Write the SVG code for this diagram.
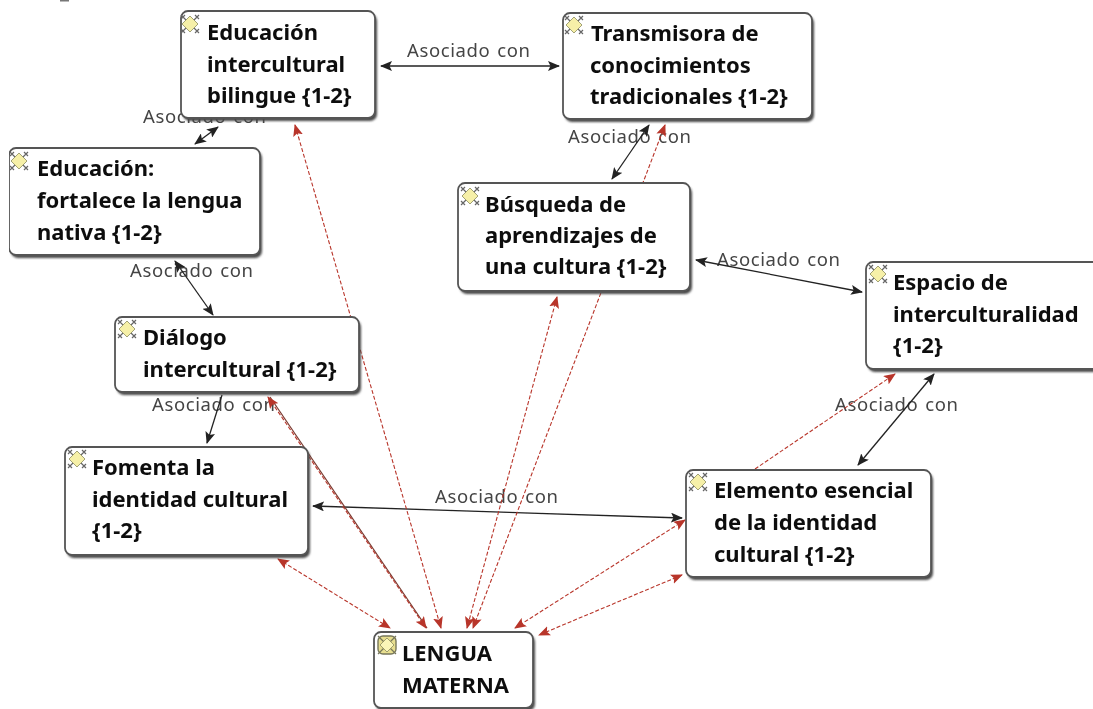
<svg xmlns="http://www.w3.org/2000/svg" width="1093" height="709" viewBox="0 0 1093 709">
<style>
.box{fill:#fff;stroke:#555;stroke-width:1.8}
.shadow{fill:#4a4a4a;filter:url(#sh)}
.t{font-family:"Noto Sans","Open Sans","DejaVu Sans",sans-serif;font-weight:700;font-size:22px;fill:#111}
.l{font-family:"Noto Sans","Open Sans","DejaVu Sans",sans-serif;font-size:18.5px;fill:#444;letter-spacing:.6px;word-spacing:1.5px}
.k{fill:none;stroke:#222;stroke-width:1.3;marker-start:url(#hk);marker-end:url(#hk)}
.ke{fill:none;stroke:#222;stroke-width:1.3;marker-end:url(#hk)}
.r{fill:none;stroke:#b8352a;stroke-width:1.1;stroke-dasharray:4 2;marker-start:url(#hr);marker-end:url(#hr)}
.re{fill:none;stroke:#b8352a;stroke-width:1.1;stroke-dasharray:4 2;marker-end:url(#hr)}
</style>
<defs>
<filter id="sh" x="-5%" y="-5%" width="110%" height="110%"><feGaussianBlur stdDeviation="0.8"/></filter>
<filter id="soft" x="0" y="0" width="100%" height="100%"><feGaussianBlur stdDeviation="0.35"/></filter>
<marker id="hk" viewBox="0 0 12 10" refX="11" refY="5" markerWidth="12" markerHeight="10" markerUnits="userSpaceOnUse" orient="auto-start-reverse"><path d="M0 0L12 5L0 10L2.5 5Z" fill="#222"/></marker>
<marker id="hr" viewBox="0 0 12 10" refX="11" refY="5" markerWidth="12" markerHeight="10" markerUnits="userSpaceOnUse" orient="auto-start-reverse"><path d="M0 0L12 5L0 10L2.5 5Z" fill="#b8352a"/></marker>
<g id="ico">
<path d="M-9-9L-3-3M9-9L3-3M-9 9L-3 3M9 9L3 3M-9-5L-5-9M9-5L5-9M-9 5L-5 9M9 5L5 9" stroke="#666" stroke-width="1.2" fill="none"/>
<path d="M0-8L8 0L0 8L-8 0Z" fill="#f6f0a8" stroke="#8a8a60" stroke-width=".8"/>
</g>
<g id="ico2">
<rect x="-9" y="-9" width="18" height="18" rx="5" fill="#e8df90" stroke="#77775a" stroke-width="1.4"/>
<path d="M-9-9L9 9M9-9L-9 9" stroke="#77775a" stroke-width="1.2"/>
<path d="M0-7L7 0L0 7L-7 0Z" fill="#fbf6b8" stroke="#8a8a60" stroke-width=".8"/>
</g>
</defs>
<rect width="1093" height="709" fill="#fff"/>
<g filter="url(#soft)">
<rect x="60" y="0" width="9" height="1.5" fill="#777"/>
<g id="connectors">
<text class="l" x="143" y="123">Asociado con</text>
<text class="l" x="130" y="277">Asociado con</text>
<text class="l" x="568" y="143">Asociado con</text>
<text class="l" x="407" y="57">Asociado con</text>
<text class="l" x="717" y="266">Asociado con</text>
<text class="l" x="152" y="411">Asociado con</text>
<text class="l" x="435" y="503">Asociado con</text>
<text class="l" x="835" y="411">Asociado con</text>
<line class="k" x1="381" y1="66" x2="559" y2="66"/>
<line class="k" x1="195" y1="144" x2="218" y2="127"/>
<line class="k" x1="612" y1="179" x2="649" y2="125"/>
<line class="k" x1="696" y1="260" x2="862" y2="292"/>
<line class="k" x1="858" y1="465" x2="934" y2="374"/>
<line class="k" x1="313" y1="506" x2="682" y2="518"/>
<line class="k" x1="213" y1="315" x2="175" y2="261"/>
<line class="ke" x1="222" y1="395" x2="207" y2="443"/>
<line class="re" x1="755" y1="469" x2="895" y2="374"/>
<line class="r" x1="685" y1="520" x2="515" y2="628"/>
<line class="r" x1="682" y1="575" x2="539" y2="635"/>
<line class="r" x1="278" y1="559" x2="390" y2="628"/>
<line x1="270" y1="397" x2="427" y2="628" stroke="#7a3a30" stroke-width="1.2" fill="none"/>
<line class="r" x1="268" y1="397" x2="426" y2="628"/>
<line class="r" x1="295" y1="125" x2="441" y2="628"/>
<line class="r" x1="557" y1="297" x2="467" y2="628"/>
<line class="r" x1="665" y1="125" x2="473" y2="628"/>
</g>
<g id="n-eib">
<rect class="shadow" x="183" y="14" width="194" height="107" rx="7"/>
<rect class="box" x="181" y="11" width="194" height="107" rx="7"/>
<use href="#ico" x="190" y="24"/>
<text class="t"><tspan x="207" y="40">Educación</tspan><tspan x="207" y="72">intercultural</tspan><tspan x="207" y="103">bilingue {1-2}</tspan></text>
</g>
<g id="n-fortalece">
<rect class="shadow" x="11" y="151" width="251" height="107" rx="7"/>
<rect class="box" x="9" y="148" width="251" height="107" rx="7"/>
<use href="#ico" x="19" y="161"/>
<text class="t"><tspan x="37" y="176">Educación:</tspan><tspan x="37" y="208">fortalece la lengua</tspan><tspan x="37" y="240">nativa {1-2}</tspan></text>
</g>
<g id="n-transmisora">
<rect class="shadow" x="565" y="16" width="249" height="106" rx="7"/>
<rect class="box" x="563" y="13" width="249" height="106" rx="7"/>
<use href="#ico" x="574" y="25"/>
<text class="t"><tspan x="591" y="41">Transmisora de</tspan><tspan x="590" y="73">conocimientos</tspan><tspan x="590" y="104">tradicionales {1-2}</tspan></text>
</g>
<g id="n-busqueda">
<rect class="shadow" x="460" y="186" width="232" height="108" rx="7"/>
<rect class="box" x="458" y="183" width="232" height="108" rx="7"/>
<use href="#ico" x="470" y="196"/>
<text class="t"><tspan x="485" y="212">Búsqueda de</tspan><tspan x="485" y="243">aprendizajes de</tspan><tspan x="485" y="274">una cultura {1-2}</tspan></text>
</g>
<g id="n-dialogo">
<rect class="shadow" x="117" y="320" width="244" height="75" rx="7"/>
<rect class="box" x="115" y="317" width="244" height="75" rx="7"/>
<use href="#ico" x="127" y="329"/>
<text class="t"><tspan x="143" y="345">Diálogo</tspan><tspan x="143" y="377">intercultural {1-2}</tspan></text>
</g>
<g id="n-fomenta">
<rect class="shadow" x="67" y="450" width="243" height="108" rx="7"/>
<rect class="box" x="65" y="447" width="243" height="108" rx="7"/>
<use href="#ico" x="77" y="459"/>
<text class="t"><tspan x="92" y="475">Fomenta la</tspan><tspan x="92" y="507">identidad cultural</tspan><tspan x="92" y="538">{1-2}</tspan></text>
</g>
<g id="n-lengua">
<rect class="shadow" x="376" y="635" width="159" height="76" rx="7"/>
<rect class="box" x="374" y="632" width="159" height="76" rx="7"/>
<use href="#ico2" x="387" y="645"/>
<text class="t"><tspan x="402" y="661">LENGUA</tspan><tspan x="402" y="693">MATERNA</tspan></text>
</g>
<g id="n-espacio">
<rect class="shadow" x="868" y="265" width="240" height="107" rx="7"/>
<rect class="box" x="866" y="262" width="240" height="107" rx="7"/>
<use href="#ico" x="878" y="274"/>
<text class="t"><tspan x="893" y="290">Espacio de</tspan><tspan x="893" y="322">interculturalidad</tspan><tspan x="893" y="353">{1-2}</tspan></text>
</g>
<g id="n-elemento">
<rect class="shadow" x="688" y="473" width="245" height="107" rx="7"/>
<rect class="box" x="686" y="470" width="245" height="107" rx="7"/>
<use href="#ico" x="698" y="482"/>
<text class="t"><tspan x="714" y="498">Elemento esencial</tspan><tspan x="714" y="530">de la identidad</tspan><tspan x="714" y="562">cultural {1-2}</tspan></text>
</g>
</g>
</svg>
